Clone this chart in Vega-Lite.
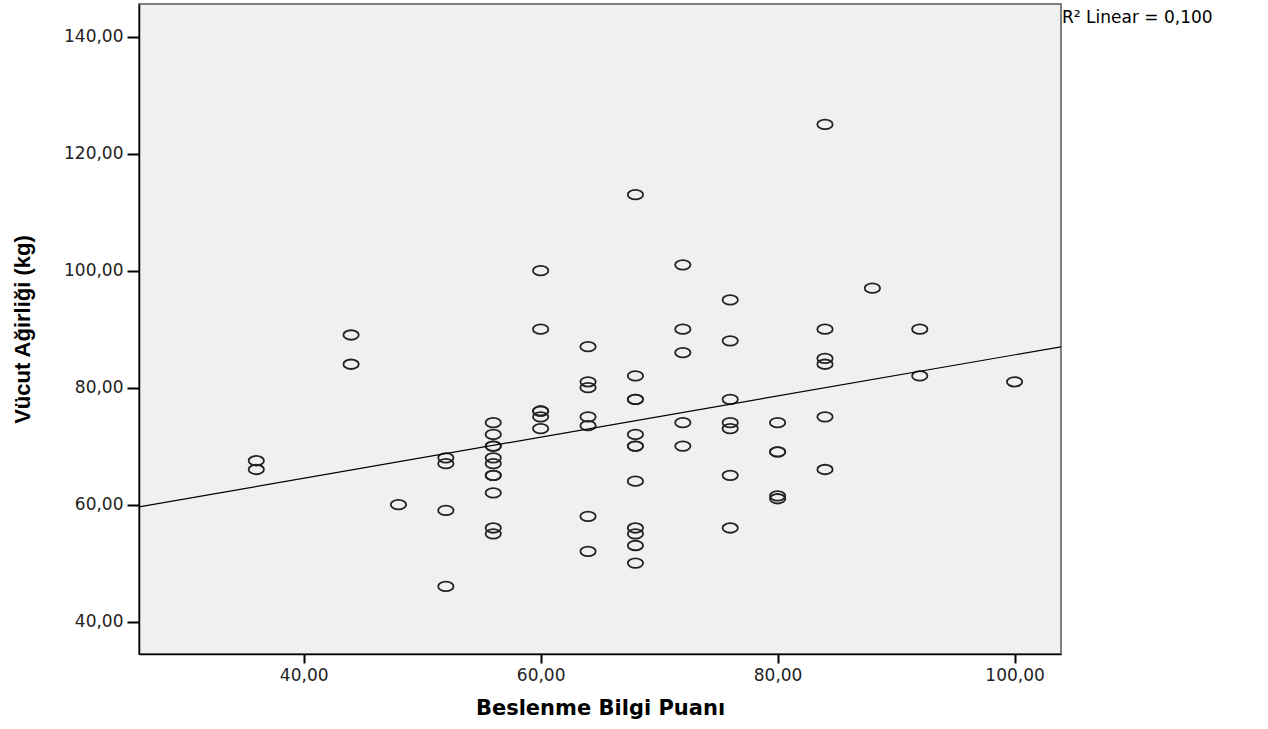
{
  "$schema": "https://vega.github.io/schema/vega-lite/v6.json",
  "autosize": "none",
  "width": 922,
  "height": 650,
  "padding": {"left": 139, "top": 4, "right": 207, "bottom": 75},
  "background": "white",
  "config": {
    "view": {"fill": "#f0f0f0", "stroke": "#7f7f7f", "strokeWidth": 2},
    "axis": {
      "grid": false,
      "domainColor": "#000000",
      "domainWidth": 1.5,
      "tickColor": "#000000",
      "tickWidth": 2,
      "labelFont": "DejaVu Sans",
      "labelFontSize": 17,
      "labelColor": "#222222",
      "titleColor": "#000000"
    }
  },
  "datasets": {
    "noktalar": [
      {"puan": 36, "agirlik": 67.5}, {"puan": 36, "agirlik": 66},
      {"puan": 44, "agirlik": 89}, {"puan": 44, "agirlik": 84},
      {"puan": 48, "agirlik": 60},
      {"puan": 52, "agirlik": 68}, {"puan": 52, "agirlik": 67}, {"puan": 52, "agirlik": 59}, {"puan": 52, "agirlik": 46},
      {"puan": 56, "agirlik": 74}, {"puan": 56, "agirlik": 72}, {"puan": 56, "agirlik": 70}, {"puan": 56, "agirlik": 70},
      {"puan": 56, "agirlik": 68}, {"puan": 56, "agirlik": 67}, {"puan": 56, "agirlik": 65}, {"puan": 56, "agirlik": 65},
      {"puan": 56, "agirlik": 62}, {"puan": 56, "agirlik": 56}, {"puan": 56, "agirlik": 55},
      {"puan": 60, "agirlik": 100}, {"puan": 60, "agirlik": 90}, {"puan": 60, "agirlik": 76}, {"puan": 60, "agirlik": 76},
      {"puan": 60, "agirlik": 75}, {"puan": 60, "agirlik": 73},
      {"puan": 64, "agirlik": 87}, {"puan": 64, "agirlik": 81}, {"puan": 64, "agirlik": 80}, {"puan": 64, "agirlik": 75},
      {"puan": 64, "agirlik": 73.5}, {"puan": 64, "agirlik": 58}, {"puan": 64, "agirlik": 52},
      {"puan": 68, "agirlik": 113}, {"puan": 68, "agirlik": 82}, {"puan": 68, "agirlik": 78}, {"puan": 68, "agirlik": 78},
      {"puan": 68, "agirlik": 72}, {"puan": 68, "agirlik": 70}, {"puan": 68, "agirlik": 70}, {"puan": 68, "agirlik": 64},
      {"puan": 68, "agirlik": 56}, {"puan": 68, "agirlik": 55}, {"puan": 68, "agirlik": 53}, {"puan": 68, "agirlik": 50},
      {"puan": 72, "agirlik": 101}, {"puan": 72, "agirlik": 90}, {"puan": 72, "agirlik": 86}, {"puan": 72, "agirlik": 74},
      {"puan": 72, "agirlik": 70},
      {"puan": 76, "agirlik": 95}, {"puan": 76, "agirlik": 88}, {"puan": 76, "agirlik": 78}, {"puan": 76, "agirlik": 74},
      {"puan": 76, "agirlik": 73}, {"puan": 76, "agirlik": 65}, {"puan": 76, "agirlik": 56},
      {"puan": 80, "agirlik": 74}, {"puan": 80, "agirlik": 69}, {"puan": 80, "agirlik": 69}, {"puan": 80, "agirlik": 61.5},
      {"puan": 80, "agirlik": 61},
      {"puan": 84, "agirlik": 125}, {"puan": 84, "agirlik": 90}, {"puan": 84, "agirlik": 85}, {"puan": 84, "agirlik": 84},
      {"puan": 84, "agirlik": 75}, {"puan": 84, "agirlik": 66},
      {"puan": 88, "agirlik": 97},
      {"puan": 92, "agirlik": 90}, {"puan": 92, "agirlik": 82},
      {"puan": 100, "agirlik": 81}
    ]
  },
  "layer": [
    {
      "data": {"name": "noktalar"},
      "mark": {
        "type": "point",
        "shape": "M -1 0 A 1 0.62 0 1 1 1 0 A 1 0.62 0 1 1 -1 0 Z",
        "size": 235,
        "filled": false,
        "stroke": "#222222",
        "strokeWidth": 1.8,
        "opacity": 1
      },
      "encoding": {
        "x": {
          "field": "puan",
          "type": "quantitative",
          "scale": {"domain": [26.1, 103.92], "nice": false, "zero": false},
          "axis": {
            "title": "Beslenme Bilgi Puanı",
            "values": [40, 60, 80, 100],
            "labelExpr": "replace(format(datum.value, '.2f'), '.', ',')",
            "tickSize": 9,
            "labelPadding": 4,
            "titleFont": "DejaVu Sans",
            "titleFontWeight": "bold",
            "titleFontSize": 21,
            "titleBaseline": "middle",
            "titleY": 54
          }
        },
        "y": {
          "field": "agirlik",
          "type": "quantitative",
          "scale": {"domain": [34.45, 145.6], "nice": false, "zero": false},
          "axis": {
            "title": "Vücut Ağirliği (kg)",
            "values": [40, 60, 80, 100, 120, 140],
            "labelExpr": "replace(format(datum.value, '.2f'), '.', ',')",
            "tickSize": 12,
            "labelPadding": 4,
            "titleFont": "Liberation Sans Narrow, Liberation Sans",
            "titleFontWeight": "bold",
            "titleFontSize": 22,
            "titleBaseline": "middle",
            "titleAngle": -90,
            "titleX": -117,
            "titleY": 325
          }
        }
      }
    },
    {
      "data": {"name": "noktalar"},
      "transform": [
        {"regression": "agirlik", "on": "puan", "extent": [26.1, 103.92]}
      ],
      "mark": {"type": "line", "color": "#000000", "strokeWidth": 1.2, "clip": true},
      "encoding": {
        "x": {"field": "puan", "type": "quantitative"},
        "y": {"field": "agirlik", "type": "quantitative"}
      }
    },
    {
      "data": {"values": [{"metin": "R² Linear = 0,100", "puan": 103.92, "agirlik": 143.2}]},
      "mark": {
        "type": "text",
        "align": "left",
        "baseline": "middle",
        "font": "DejaVu Sans",
        "fontSize": 17,
        "color": "#000000",
        "dx": 1
      },
      "encoding": {
        "text": {"field": "metin", "type": "nominal"},
        "x": {"field": "puan", "type": "quantitative"},
        "y": {"field": "agirlik", "type": "quantitative"}
      }
    }
  ]
}
